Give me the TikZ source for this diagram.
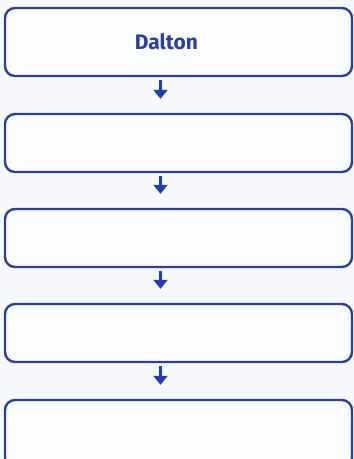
\documentclass[tikz,border=0pt]{standalone}
\usepackage{fontspec}
\setmainfont{Fira Sans}
\usetikzlibrary{arrows.meta}
\definecolor{boxblue}{HTML}{2B3F9E}
\definecolor{arrblue}{HTML}{1E3FAE}
\definecolor{bg}{HTML}{F6F8FC}
\definecolor{boxfill}{HTML}{FBFCFF}
\tikzset{
  stagebox/.style={draw=boxblue, line width=2.4pt, rounded corners=10pt, fill=boxfill,
    minimum width=347pt, minimum height=#1, inner sep=0pt, text=boxblue,
    font=\fontsize{21}{24}\selectfont\bfseries},
  stagebox/.default=60pt,
  flowarrow/.style={draw=arrblue, line width=3.2pt, -{Triangle[width=14pt,length=9pt]}},
}
\begin{document}
\begin{tikzpicture}[x=1pt,y=-1pt]
\useasboundingbox (0,0) rectangle (354,459);
\fill[bg] (0,0) rectangle (354,459);
\begin{scope}
\clip (0,0) rectangle (354,459);
\node[stagebox=68pt] (b1) at (178.5,42) {\hspace*{-24pt}Dalton};
\node[stagebox=58pt] (b2) at (178.5,143) {};
\node[stagebox=58pt] (b3) at (178.5,238) {};
\node[stagebox=58pt] (b4) at (178.5,333) {};
\node[stagebox=68pt] (b5) at (178.5,434) {};
\end{scope}
\draw[flowarrow, shorten <=3pt, shorten >=14pt] ([xshift=-18pt]b1.south) -- ([xshift=-18pt]b2.north);
\draw[flowarrow, shorten <=3pt, shorten >=14pt] ([xshift=-18pt]b2.south) -- ([xshift=-18pt]b3.north);
\draw[flowarrow, shorten <=3pt, shorten >=14pt] ([xshift=-18pt]b3.south) -- ([xshift=-18pt]b4.north);
\draw[flowarrow, shorten <=3pt, shorten >=14pt] ([xshift=-18pt]b4.south) -- ([xshift=-18pt]b5.north);
\end{tikzpicture}
\end{document}
